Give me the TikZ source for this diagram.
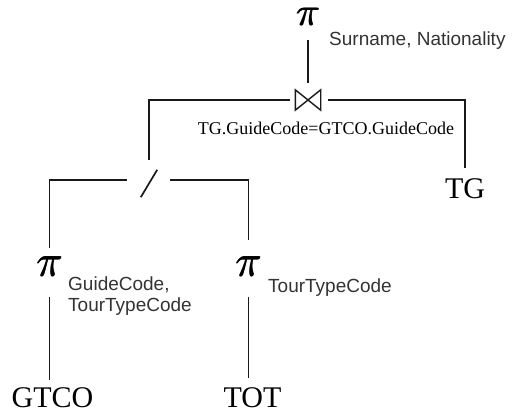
\RequirePackage{fix-cm}
\documentclass[tikz,border=0pt]{standalone}
\usepackage{fontspec}
\setmainfont{Liberation Serif}
\newfontfamily\labsans{Liberation Sans}
\newcommand\thickpi{\makebox[0pt][l]{$\pi$}\kern0.8pt\makebox[0pt][l]{$\pi$}\kern0.4pt\raisebox{0.3pt}{$\pi$}}
\begin{document}
\begin{tikzpicture}[x=1pt,y=1pt,
  conn/.style={line width=1.7pt, draw=black!90},
  pinode/.style={inner sep=0pt, font=\fontsize{40}{40}\selectfont},
  bigpi/.style={pinode, font=\fontsize{44}{44}\selectfont},
  rel/.style={inner sep=0pt, anchor=base, font=\fontsize{30}{30}\selectfont},
  attr/.style={inner sep=0pt, anchor=base west, font=\labsans\fontsize{19}{22}\selectfont, text=black!80},
  cond/.style={inner sep=0pt, anchor=base, font=\fontsize{18}{18}\selectfont},
  opbox/.style={inner sep=0pt, draw=none}]
\useasboundingbox (0,0) rectangle (513,414);

% operators
\node[pinode] (piTop) at (308,397) {\thickpi};
\node[attr] (attrTop) at (329,368) {Surname, Nationality};
\node[opbox, minimum width=25, minimum height=20] (join) at (308,314) {};
\draw[line width=1.4pt, draw=black!90, line join=miter] (join.north west) -- (join.south east) -- (join.north east) -- (join.south west) -- cycle;
\node[cond] (cond) at (326,279) {TG.GuideCode=GTCO.GuideCode};
\node[opbox, minimum width=16, minimum height=27] (cut) at (149,230.5) {};
\draw[conn] (cut.south west) -- (cut.north east);
\node[bigpi] (piL) at (49.5,147.5) {\thickpi};
\node[attr] (attrL1) at (68,123) {GuideCode,};
\node[attr] (attrL2) at (68,102) {TourTypeCode};
\node[bigpi] (piR) at (248.5,147.5) {\thickpi};
\node[attr] (attrR) at (268,121) {TourTypeCode};

% relations
\node[rel] (TG) at (465,215) {TG};
\node[rel] (GTCO) at (52.5,6) {GTCO};
\node[rel] (TOT) at (252.5,6) {TOT};

% connectors
\draw[conn, shorten <=14pt, shorten >=7pt] (piTop.south) -- (join.north);
\draw[conn, shorten <=5pt, shorten >=10pt] (join.west) -| (cut.north);
\draw[conn, shorten <=7pt, shorten >=11pt] (join.east) -| (TG.north);
\draw[conn, shorten <=14pt, shorten >=9pt] ([yshift=3.5pt]cut.west) -| (piL.north);
\draw[conn, shorten <=13pt, shorten >=17pt] ([yshift=3.5pt]cut.east) -| (piR.north);
\draw[conn, shorten <=21pt, shorten >=8pt] (piL.south) -- (piL.south |- GTCO.north);
\draw[conn, shorten <=21pt, shorten >=10pt] (piR.south) -- (piR.south |- TOT.north);
\end{tikzpicture}
\end{document}
